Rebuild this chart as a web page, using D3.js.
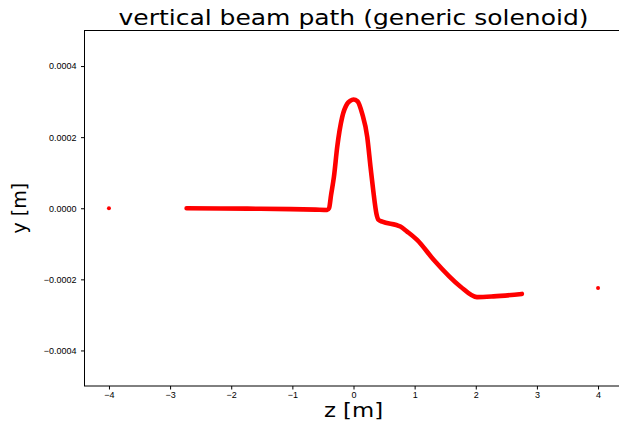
<!DOCTYPE html>
<html lang="en">
<head>
    <meta charset="UTF-8">
    <title>vertical beam path (generic solenoid)</title>
    <style>
        body { margin: 0; background: #fff; }
        svg { display: block; font-family: "DejaVu Sans", sans-serif; }
        .tick text { font-size: 9px; fill: #000; }
        .tick line { stroke: #000; }
    </style>
</head>
<body>
    <div id="chart"></div>

    <script src="https://d3js.org/d3.v7.min.js"></script>
    <script>
        // beam path (z in m, y in m)
        const pathZ = [-2.73, -2.17, -1.52, -1.03, -0.62, -0.43, -0.40, -0.367, -0.32, -0.266, -0.184, -0.103, -0.055, 0.0,
                       0.065, 0.142, 0.224, 0.278, 0.322, 0.376, 0.41, 0.47, 0.767, 0.877, 1.04, 1.311, 1.747, 2.02, 2.29, 2.754];
        const pathY = [0, -0.0000006, -0.0000014, -0.0000025, -0.000004, -0.0000048, 0, 0.0000373, 0.0000886, 0.000173,
                       0.000257, 0.000294, 0.000302, 0.000306, 0.000301, 0.000266, 0.000201, 0.000117, 0.0000513, -0.000016,
                       -0.0000328, -0.0000376, -0.0000516, -0.0000656, -0.0000889, -0.000145, -0.00022, -0.00025,
                       -0.000248, -0.000241];
        // start and end points
        const endZ = [-4, 4];
        const endY = [0, -0.000224];

        const xTicks = [-4, -3, -2, -1, 0, 1, 2, 3, 4];
        const yTicks = [-0.0004, -0.0002, 0, 0.0002, 0.0004];

        const width = 619, height = 422;
        const margin = { left: 84.5, right: -3.5, top: 30.5, bottom: 36 };

        const svg = d3.select("#chart").append("svg")
            .attr("width", width)
            .attr("height", height);

        const x = d3.scaleLinear()
            .domain([-4.4, 4.4])
            .range([margin.left, width - margin.right]);

        const y = d3.scaleLinear()
            .domain([-0.0005, 0.0005])
            .range([height - margin.bottom, margin.top]);

        const minus = s => s.replace("-", "\u2212");

        svg.append("g")
            .attr("transform", `translate(0,${height - margin.bottom})`)
            .call(d3.axisBottom(x).tickValues(xTicks).tickSize(3.5).tickPadding(2.5)
                .tickFormat(d => minus(d3.format("d")(d))))
            .call(g => g.select(".domain").remove());

        svg.append("g")
            .attr("transform", `translate(${margin.left},0)`)
            .call(d3.axisLeft(y).tickValues(yTicks).tickSize(3.5).tickPadding(4.5)
                .tickFormat(d => minus(d3.format(".4f")(d))))
            .call(g => g.select(".domain").remove());

        const pts = pathZ.map((z, i) => [z, pathY[i]]);

        const line = d3.line()
            .x(d => x(d[0]))
            .y(d => y(d[1]))
            .curve(d3.curveMonotoneX);

        svg.append("path")
            .datum(pts)
            .attr("fill", "none")
            .attr("stroke", "#ff0000")
            .attr("stroke-width", 4.6)
            .attr("stroke-linecap", "round")
            .attr("stroke-linejoin", "round")
            .attr("d", line);

        svg.selectAll(".end")
            .data(endZ)
            .enter()
            .append("circle")
            .attr("class", "end")
            .attr("cx", d => x(d))
            .attr("cy", (d, i) => y(endY[i]))
            .attr("r", 2)
            .attr("fill", "#ff0000");

        // axes frame
        svg.append("rect")
            .attr("x", margin.left)
            .attr("y", margin.top)
            .attr("width", width - margin.right - margin.left)
            .attr("height", height - margin.bottom - margin.top)
            .attr("fill", "none")
            .attr("stroke", "#000")
            .attr("stroke-width", 1);

        // picture is slightly wider than tall, so text is stretched sideways
        svg.append("text")
            .attr("transform", `translate(${x(0)},25) scale(1.19,1)`)
            .attr("text-anchor", "middle")
            .attr("font-size", 21)
            .text("vertical beam path (generic solenoid)");

        svg.append("text")
            .attr("transform", `translate(${x(0)},416.5) scale(1.2,1)`)
            .attr("text-anchor", "middle")
            .attr("font-size", 19)
            .text("z [m]");

        svg.append("text")
            .attr("transform", `translate(26,${y(0)}) rotate(-90)`)
            .attr("text-anchor", "middle")
            .attr("font-size", 19)
            .text("y [m]");
    </script>
</body>
</html>
